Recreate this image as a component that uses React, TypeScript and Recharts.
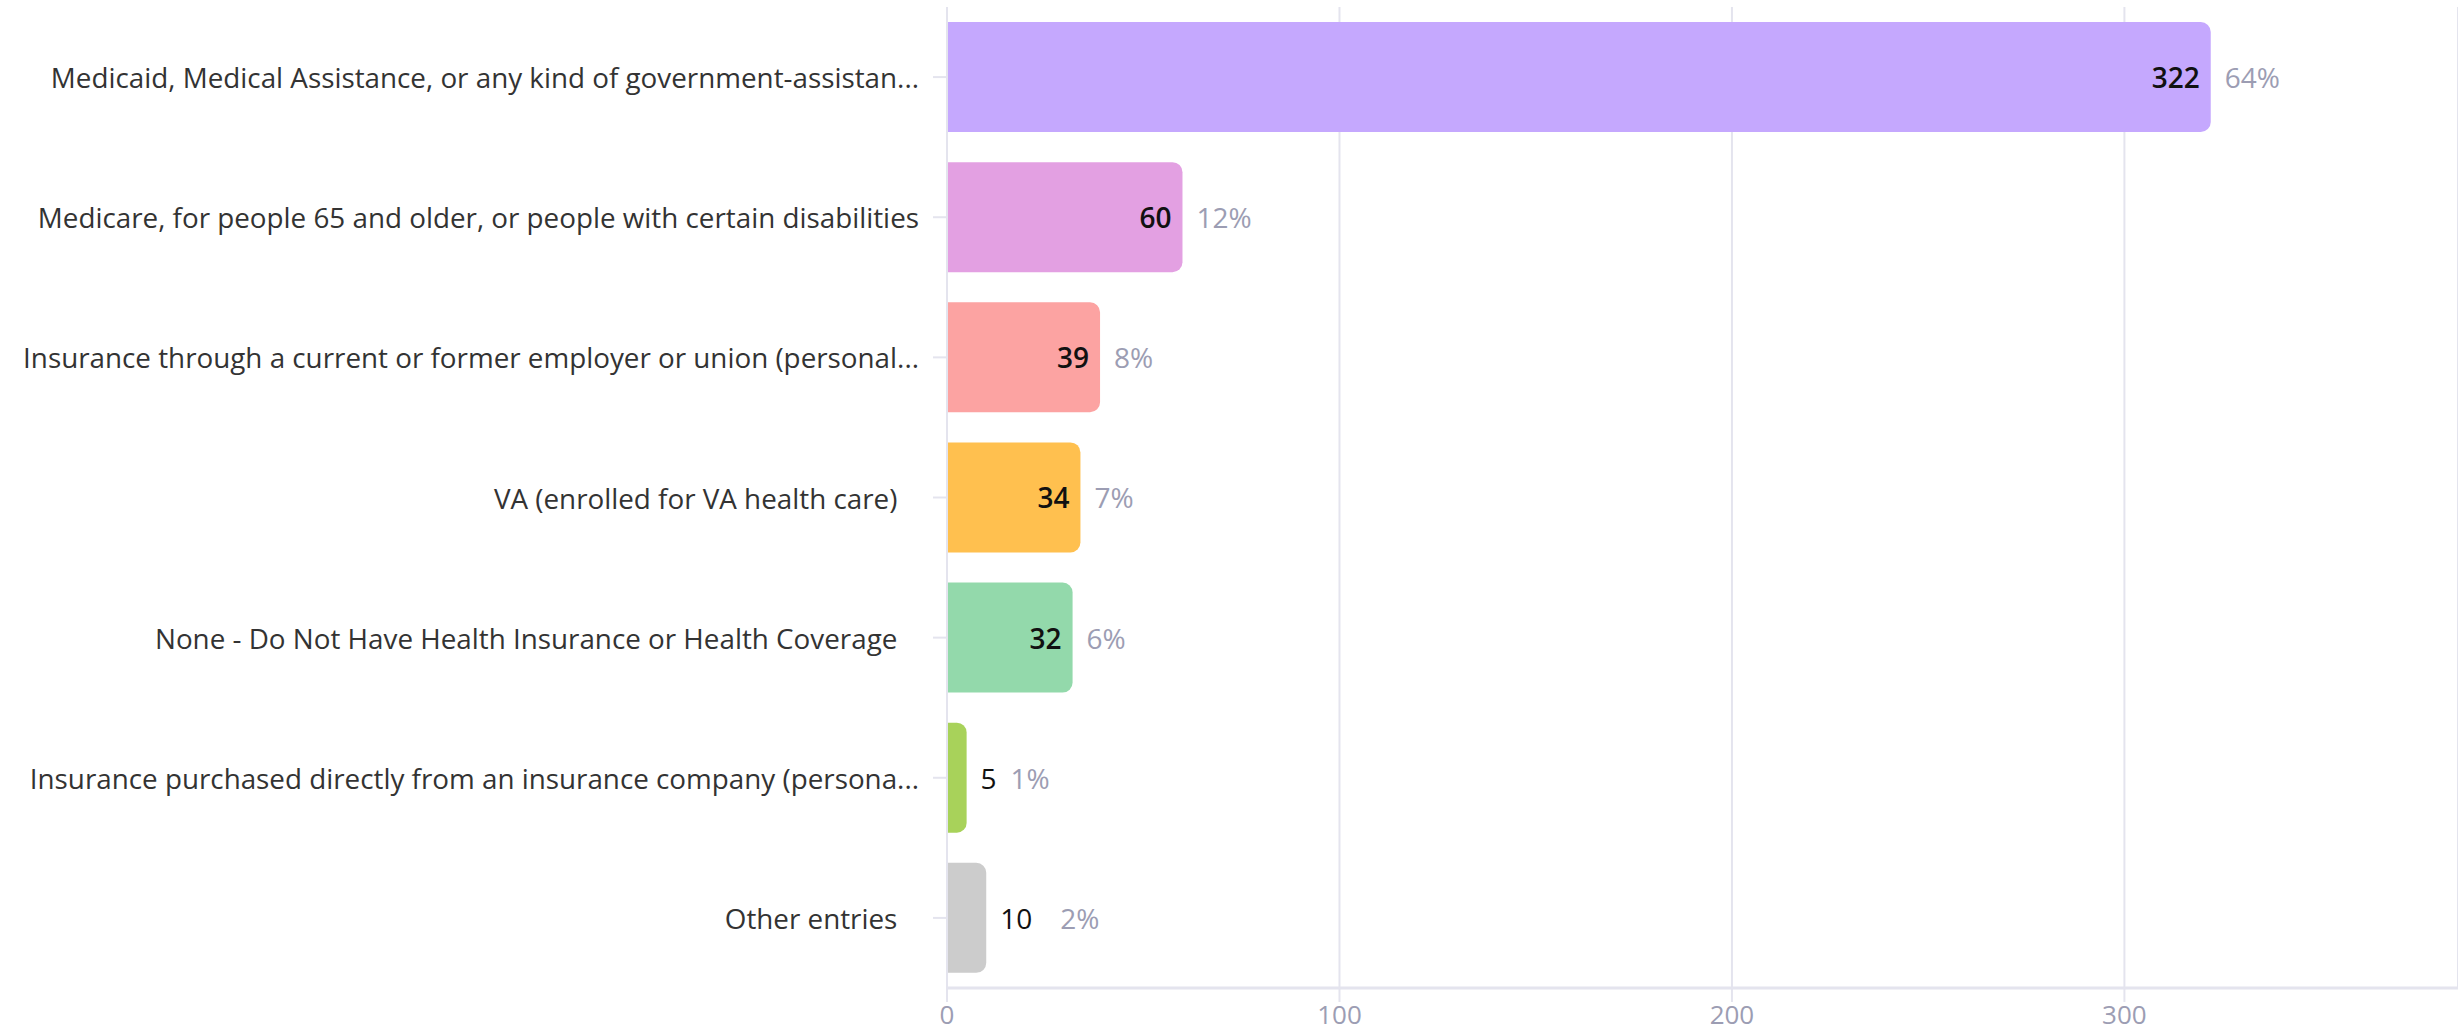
import React from "react";
import { BarChart, Bar, XAxis, YAxis, CartesianGrid, Cell, LabelList } from "recharts";

const categories = [
  "Medicaid, Medical Assistance, or any kind of government-assistan...",
  "Medicare, for people 65 and older, or people with certain disabilities",
  "Insurance through a current or former employer or union (personal...",
  "VA (enrolled for VA health care)\u00a0\u00a0\u00a0",
  "None - Do Not Have Health Insurance or Health Coverage\u00a0\u00a0\u00a0",
  "Insurance purchased directly from an insurance company (persona...",
  "Other entries\u00a0\u00a0\u00a0",
];
const counts = [322, 60, 39, 34, 32, 5, 10];
const percents = ["64%", "12%", "8%", "7%", "6%", "1%", "2%"];
const colors = ["#c5a8fe", "#e3a0e2", "#fca3a2", "#ffc04f", "#93d9ab", "#a8d25a", "#cccccc"];
const xTicks = [0, 100, 200, 300];

const data = categories.map((name, i) => ({ name, value: counts[i], pct: percents[i] }));

const FONT = "'Open Sans', sans-serif";

const YTick = (props: any) => {
  const { x, y, payload } = props;
  return (
    <text x={x} y={y} textAnchor="end" dominantBaseline="central" fontFamily={FONT} fontSize={27.8} fill="#333333">
      {payload.value}
    </text>
  );
};

const ValueLabel = (props: any) => {
  const { x, y, width, height, index } = props;
  const v = counts[index];
  const p = percents[index];
  const cy = y + height / 2;
  const end = x + width;
  const digits = String(v).length;
  const inside = width > digits * 16 + 40;
  if (inside) {
    return (
      <g>
        <text x={end - 11} y={cy} textAnchor="end" dominantBaseline="central" fontFamily={FONT} fontSize={28} fontWeight={600} fill="#111111">
          {v}
        </text>
        <text x={end + 14} y={cy} textAnchor="start" dominantBaseline="central" fontFamily={FONT} fontSize={28} fill="#9c9db3">
          {p}
        </text>
      </g>
    );
  }
  return (
    <g>
      <text x={end + 14} y={cy} textAnchor="start" dominantBaseline="central" fontFamily={FONT} fontSize={28} fontWeight={500} fill="#111111">
        {v}
      </text>
      <text x={end + 14 + digits * 30} y={cy} textAnchor="start" dominantBaseline="central" fontFamily={FONT} fontSize={28} fill="#9c9db3">
        {p}
      </text>
    </g>
  );
};

export default function App() {
  return (
    <div style={{ position: "absolute", left: 0, top: 0, background: "#ffffff" }}>
      <BarChart
        width={2458}
        height={1031}
        data={data}
        layout="vertical"
        margin={{ top: 7, right: 0, bottom: 0, left: 0 }}
        barSize={110}
      >
        <CartesianGrid horizontal={false} vertical={true} stroke="#e4e4ee" strokeWidth={2} />
        <XAxis
          type="number"
          domain={[0, 385]}
          ticks={xTicks}
          height={43}
          tickSize={14}
          tickMargin={4}
          axisLine={{ stroke: "#e4e4ee", strokeWidth: 3 }}
          tickLine={{ stroke: "#e4e4ee", strokeWidth: 2 }}
          tick={{ fill: "#9c9db3", fontSize: 26, fontFamily: FONT }}
          allowDataOverflow
        />
        <YAxis
          type="category"
          dataKey="name"
          width={947}
          tickSize={14}
          tickMargin={14}
          axisLine={{ stroke: "#e4e4ee", strokeWidth: 2 }}
          tickLine={{ stroke: "#e4e4ee", strokeWidth: 2 }}
          tick={<YTick />}
          interval={0}
        />
        <Bar dataKey="value" radius={[0, 10, 10, 0]} isAnimationActive={false}>
          {data.map((d, i) => (
            <Cell key={i} fill={colors[i]} />
          ))}
          <LabelList dataKey="value" content={<ValueLabel />} />
        </Bar>
      </BarChart>
    </div>
  );
}
